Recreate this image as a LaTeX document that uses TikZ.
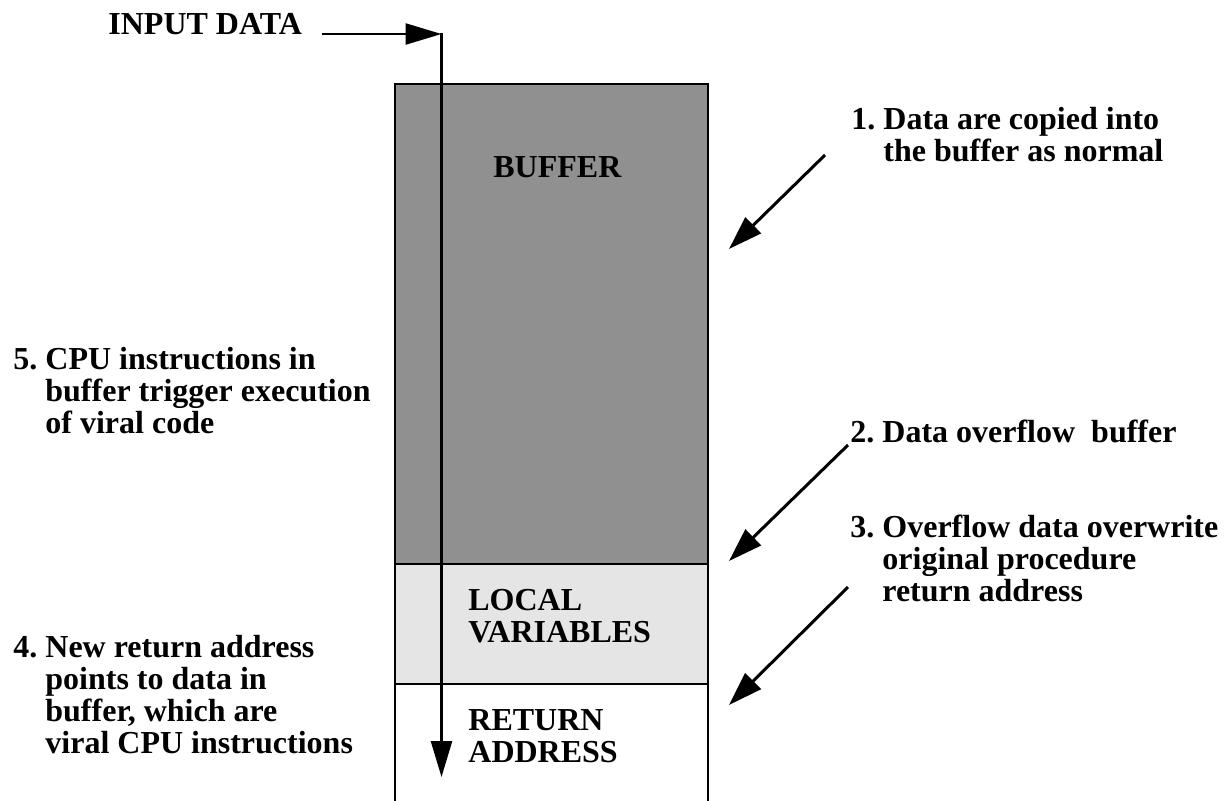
\documentclass[tikz,border=0pt]{standalone}
\usepackage{fontspec}
\setmainfont{Liberation Serif}
\usetikzlibrary{arrows.meta}
\definecolor{bufgray}{RGB}{144,144,144}
\definecolor{locgray}{RGB}{229,229,229}
\begin{document}
\begin{tikzpicture}[x=0.5pt,y=-0.5pt,
  lbl/.style={anchor=base west, inner sep=0pt, font=\fontsize{16}{16}\selectfont\bfseries},
  cell/.style={draw, line width=1pt, anchor=north west, inner sep=0pt, minimum width=156.5pt},
  arr/.style={line width=1.5pt, -{Triangle[length=17pt,width=11pt]}},
  thinarr/.style={line width=1.2pt, -{Triangle[length=18pt,width=10.5pt]}}]
\useasboundingbox (0,0) rectangle (1232,800);
% column
\node[cell, fill=bufgray, minimum height=240pt] (buf) at (394,83) {};
\node[cell, fill=locgray, minimum height=60pt] (loc) at (394,563) {};
\node[cell, fill=white, minimum height=62pt] (ret) at (394,683) {};
% column texts
\node[lbl] (buftxt) at (493,177) {BUFFER};
\node[lbl] (loctxt) at (468,610) {\begin{tabular}[t]{@{}l@{}}LOCAL\\VARIABLES\end{tabular}};
\node[lbl] (rettxt) at (468,730) {\begin{tabular}[t]{@{}l@{}}RETURN\\ADDRESS\end{tabular}};
% input data
\node[lbl] (input) at (108,34) {INPUT DATA};
\coordinate (corner) at (441.5,34);
\coordinate (downend) at (441.5,777);
\draw[thinarr] (322,34) -- (corner);
\draw[thinarr] ([yshift=0.5pt]corner) -- (downend);
% right labels
\node[lbl] (l1) at (851,129) {\begin{tabular}[t]{@{}l@{\ }l@{}}1.& Data are copied into\\ & the buffer as normal\end{tabular}};
\node[lbl] (l2) at (850,442) {\begin{tabular}[t]{@{}l@{\ }l@{}}2.& Data overflow~ buffer\end{tabular}};
\node[lbl] (l3) at (850,537) {\begin{tabular}[t]{@{}l@{\ }l@{}}3.& Overflow data overwrite\\ & original procedure\\ & return address\end{tabular}};
% left labels
\node[lbl] (l5) at (13,369) {\begin{tabular}[t]{@{}l@{\ }l@{}}5.& CPU instructions in\\ & buffer trigger execution\\ & of viral code\end{tabular}};
\node[lbl] (l4) at (13,657) {\begin{tabular}[t]{@{}l@{\ }l@{}}4.& New return address\\ & points to data in\\ & buffer, which are\\ & viral CPU instructions\end{tabular}};
% pointer arrows
\coordinate (a1s) at (825,155); \coordinate (a1e) at (729,249);
\coordinate (a2s) at (848,445); \coordinate (a2e) at (729,561);
\coordinate (a3s) at (848,587); \coordinate (a3e) at (729,705);
\draw[arr] (a1s) -- (a1e);
\draw[arr] (a2s) -- (a2e);
\draw[arr] (a3s) -- (a3e);
\end{tikzpicture}
\end{document}
